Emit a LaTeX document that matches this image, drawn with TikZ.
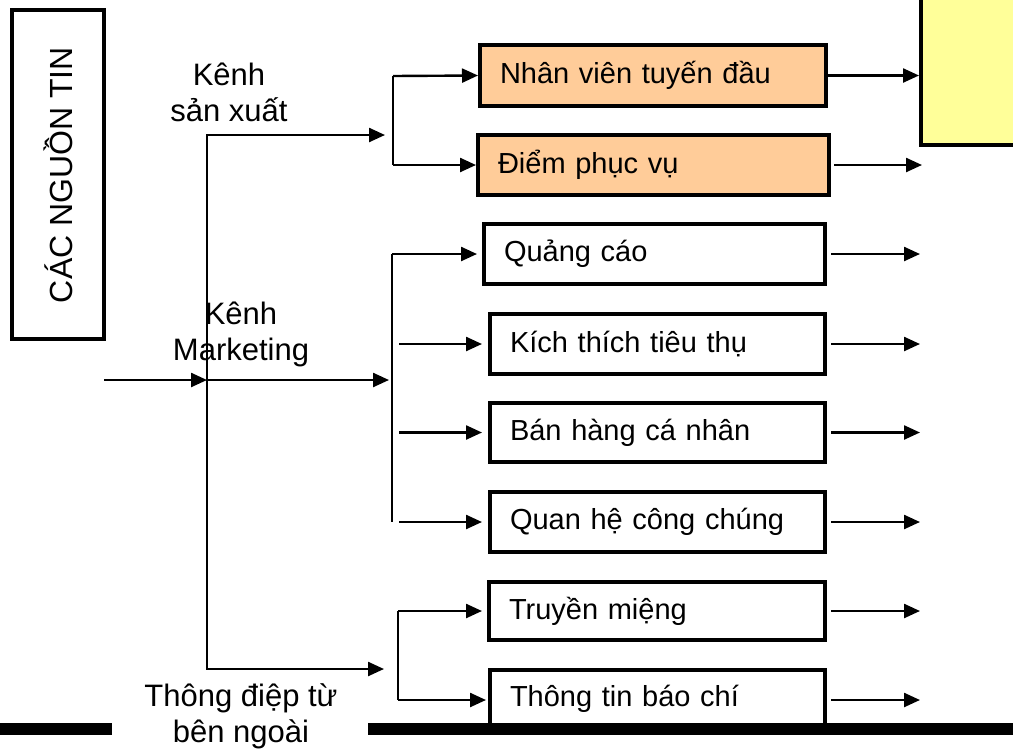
\documentclass[tikz,border=0pt]{standalone}
\usepackage{fontspec}
\setmainfont{Liberation Sans}
\usetikzlibrary{arrows.meta}
\definecolor{peach}{HTML}{FFCC99}
\definecolor{paleyellow}{HTML}{FFFF99}
\begin{document}
\begin{tikzpicture}[x=1pt,y=-1pt,
  >={Triangle[length=16pt,width=14pt]},
  conn/.style={line width=2.4pt,->},
  plainline/.style={line width=2.4pt},
  chan/.style={draw,line width=4pt,inner xsep=20pt,inner ysep=0pt,
    align=left,font=\fontsize{29}{34}\selectfont},
  lbl/.style={align=center,font=\fontsize{31}{36}\selectfont},
]
\useasboundingbox (0,0) rectangle (1013,753);

% source box with vertical title
\node[draw,line width=4pt,minimum width=92pt,minimum height=329pt,inner sep=0pt]
  (src) at (58,174.5) {};
\node[rotate=90,font=\fontsize{32}{36}\selectfont] (srct) at (58,175) {CÁC NGUỒN TIN};

% receiver box (top right)
\node[draw,line width=4pt,fill=paleyellow,minimum width=100pt,minimum height=152pt,inner sep=0pt]
  (rcv) at (971,69) {};

% channel boxes
\node[chan,fill=peach,text width=306pt,minimum height=61pt] (n1) at (653,75.5) {Nhân viên tuyến đầu};
\node[chan,fill=peach,text width=311pt,minimum height=60pt] (n2) at (653.5,165) {Điểm phục vụ};
\node[chan,text width=301pt,minimum height=60pt] (q)  at (654.5,254) {Quảng cáo};
\node[chan,text width=295pt,minimum height=60pt] (k)  at (657.5,344) {Kích thích tiêu thụ};
\node[chan,text width=295pt,minimum height=59pt] (b)  at (657.5,432.5) {Bán hàng cá nhân};
\node[chan,text width=295pt,minimum height=60pt] (qh) at (657.5,522) {Quan hệ công chúng};
\node[chan,text width=296pt,minimum height=58pt] (t)  at (657,611) {Truyền miệng};
\node[chan,text width=295pt,minimum height=58pt] (tt) at (657.5,699) {Thông tin báo chí};

% group labels
\node[lbl] (lsx) at (229,92) {Kênh\\sản xuất};
\node[lbl] (lmk) at (241,334) {Kênh\\Marketing};
\node[lbl] (lng) at (241,716) {Thông điệp từ\\bên ngoài};

% trunk coordinates
\coordinate (in0) at (104,380);
\coordinate (tr0) at (207,380);
\coordinate (trT) at (207,135);
\coordinate (trB) at (207,669);
\coordinate (g1) at (385,135);
\coordinate (g2) at (389,380);
\coordinate (g3) at (384,669);

% branch coordinates
\coordinate (v1a) at (393,76);
\coordinate (v1b) at (393,165);
\coordinate (v2a) at (392,254);
\coordinate (v2b) at (392,522);
\coordinate (v3a) at (398,611);
\coordinate (v3b) at (398,700);
\coordinate (s2) at (399,344);
\coordinate (s3) at (399,432.5);
\coordinate (s4) at (399,522);

% outputs on the right
\coordinate (o2) at (922,165);
\coordinate (o3) at (920,254);
\coordinate (o4) at (920,344);
\coordinate (o5) at (920,432.5);
\coordinate (o6) at (920,522);
\coordinate (o7) at (920,611);
\coordinate (o8) at (920,700);

% trunk
\draw[conn] (in0) -- (tr0);
\draw[line width=2.4pt,<->] (g1) -- (trT) -- (trB) -- (g3);
\draw[conn] (tr0) -- (g2);

% branch 1
\draw[plainline] (v1a) -- (v1b);
\draw[conn] (v1a) -- (n1.west);
\draw[conn] (v1b) -- (n2.west);

% branch 2
\draw[plainline] (v2a) -- (v2b);
\draw[conn,shorten >=5pt] (v2a) -- (q.west);
\draw[conn,shorten >=6pt] (s2) -- (k.west);
\draw[conn,shorten >=6pt] (s3) -- (b.west);
\draw[conn,shorten >=6pt] (s4) -- (qh.west);

% branch 3
\draw[plainline] (v3a) -- (v3b);
\draw[conn,shorten >=5pt] (v3a) -- (t.west);
\draw[conn,shorten >=2pt] (v3b) -- (tt.west |- v3b);

% outgoing arrows
\draw[conn] (n1.east) -- (n1.east -| rcv.west);
\draw[conn,shorten <=3pt] (n2.east) -- (o2);
\draw[conn,shorten <=4pt] (q.east) -- (o3);
\draw[conn,shorten <=4pt] (k.east) -- (o4);
\draw[conn,shorten <=4pt] (b.east) -- (o5);
\draw[conn,shorten <=4pt] (qh.east) -- (o6);
\draw[conn,shorten <=4pt] (t.east) -- (o7);
\draw[conn,shorten <=4pt] (tt.east |- o8) -- (o8);

% bottom rule
\fill (0,723) rectangle (112,735);
\fill (368,723) rectangle (1013,735);
\end{tikzpicture}
\end{document}
